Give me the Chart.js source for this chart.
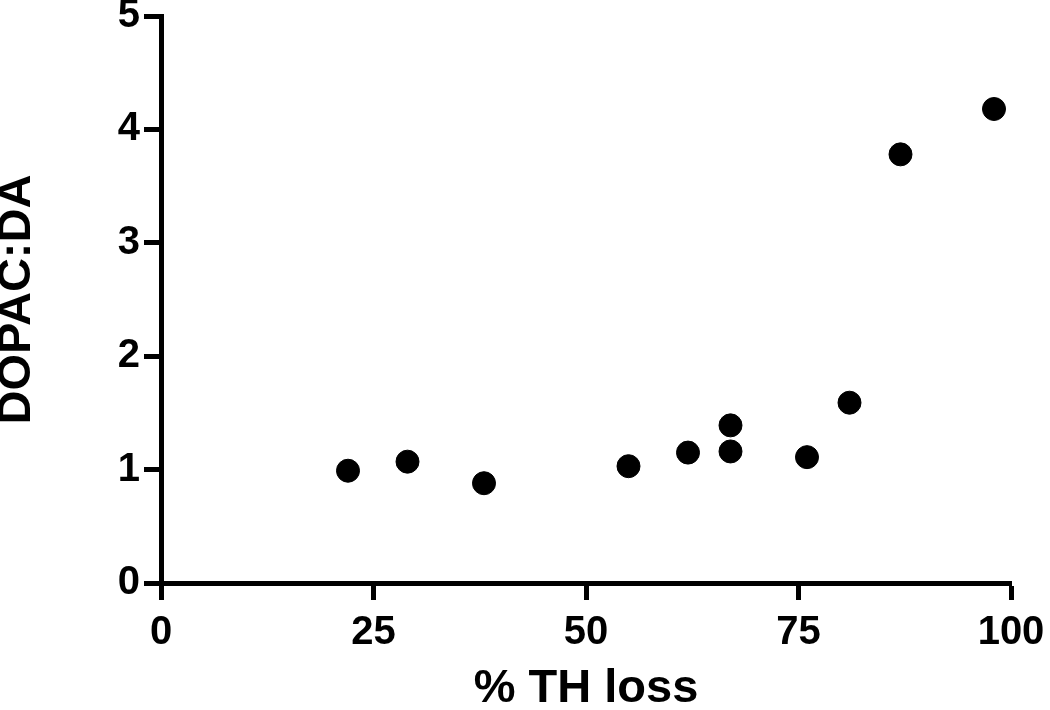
<!DOCTYPE html>
<html>
<head>
  <meta charset="utf-8">
  <title>DOPAC:DA vs % TH loss</title>
  <script src="https://cdn.jsdelivr.net/npm/chart.js"></script>
  <style>
    body { margin: 0; background: #fff; }
    #wrap { width: 1050px; height: 710px; }
  </style>
</head>
<body>
  <div id="wrap"><canvas id="scatter"></canvas></div>
  <script>
    // values
    const thLoss   = [22, 29, 38, 55, 62, 67, 67, 76, 81, 87, 98];
    const dopacDa  = [0.99, 1.07, 0.88, 1.03, 1.15, 1.39, 1.16, 1.11, 1.59, 3.78, 4.18];
    const xTicks   = [0, 25, 50, 75, 100];
    const yTicks   = [0, 1, 2, 3, 4, 5];
    const xLabel   = "% TH loss";
    const yLabel   = "DOPAC:DA";

    const points = thLoss.map((x, i) => ({ x: x, y: dopacDa[i] }));
    const font = "'Liberation Sans', Arial, sans-serif";

    new Chart(document.getElementById("scatter"), {
      type: "scatter",
      data: {
        datasets: [{
          data: points,
          backgroundColor: "#000",
          borderColor: "#000",
          pointRadius: 11.5,
          pointHoverRadius: 11.5
        }]
      },
      options: {
        responsive: true,
        maintainAspectRatio: false,
        animation: false,
        layout: { padding: { top: 16, right: 39, left: 0, bottom: 0 } },
        plugins: { legend: { display: false }, tooltip: { enabled: false } },
        scales: {
          x: {
            type: "linear",
            min: 0, max: 100,
            afterBuildTicks: s => { s.ticks = xTicks.map(v => ({ value: v })); },
            afterFit: s => { s.height = 127; s.paddingLeft = 0; s.paddingRight = 0; },
            border: { display: true, color: "#000", width: 5 },
            grid: { drawOnChartArea: false, color: "#000", tickLength: 17, tickWidth: 5 },
            ticks: { color: "#000", padding: 13, font: { family: font, size: 40, weight: "bold", lineHeight: 1 } },
            title: { display: true, text: xLabel, color: "#000", padding: 0,
                     font: { family: font, size: 47, weight: "bold", lineHeight: 0.9 } }
          },
          y: {
            type: "linear",
            min: 0, max: 5,
            afterBuildTicks: s => { s.ticks = yTicks.map(v => ({ value: v })); },
            afterFit: s => { s.width = 161; s.paddingTop = 0; s.paddingBottom = 0; },
            border: { display: true, color: "#000", width: 5 },
            grid: { drawOnChartArea: false, color: "#000", tickLength: 17, tickWidth: 5 },
            ticks: { color: "#000", padding: 4, font: { family: font, size: 40, weight: "bold", lineHeight: 1 } },
            title: { display: true, text: yLabel, color: "#000", padding: 0,
                     font: { family: font, size: 47, weight: "bold", lineHeight: 0.72 } }
          }
        }
      }
    });
  </script>
</body>
</html>
